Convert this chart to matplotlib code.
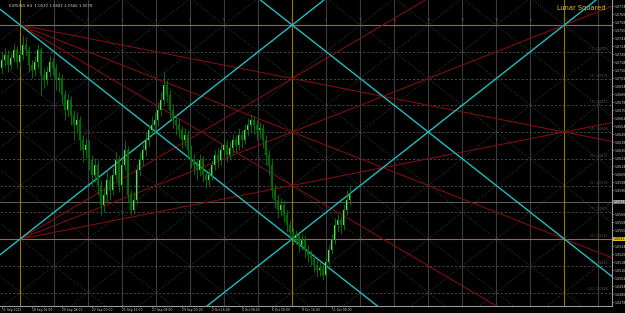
import numpy as np
import matplotlib
matplotlib.use("Agg")
import matplotlib.pyplot as plt

# EURUSD H4 candles (price), one per bar
closes = [1.0720, 1.0725, 1.0715, 1.0722, 1.0730, 1.0718, 1.0725, 1.0735, 1.0730, 1.0715,
          1.0710, 1.0718, 1.0730, 1.0705, 1.0700, 1.0708, 1.0718, 1.0712, 1.0700, 1.0702,
          1.0685, 1.0670, 1.0680, 1.0665, 1.0655, 1.0660, 1.0640, 1.0630, 1.0635, 1.0620,
          1.0605, 1.0615, 1.0595, 1.0575, 1.0585, 1.0600, 1.0590, 1.0605, 1.0620, 1.0595,
          1.0615, 1.0630, 1.0585, 1.0570, 1.0580, 1.0610, 1.0620, 1.0630, 1.0640, 1.0650,
          1.0655, 1.0660, 1.0670, 1.0680, 1.0695, 1.0685, 1.0670, 1.0660, 1.0655, 1.0650,
          1.0640, 1.0645, 1.0630, 1.0620, 1.0615, 1.0610, 1.0620, 1.0605, 1.0600, 1.0605,
          1.0615, 1.0625, 1.0620, 1.0630, 1.0635, 1.0625, 1.0632, 1.0640, 1.0635, 1.0645,
          1.0640, 1.0650, 1.0655, 1.0660, 1.0655, 1.0650, 1.0652, 1.0640, 1.0625, 1.0615,
          1.0590, 1.0580, 1.0570, 1.0575, 1.0565, 1.0555, 1.0548, 1.0542, 1.0545, 1.0535,
          1.0540, 1.0530, 1.0525, 1.0522, 1.0515, 1.0510, 1.0512, 1.0505, 1.0518, 1.0530,
          1.0540, 1.0555, 1.0560, 1.0555, 1.0570, 1.0580, 1.0585]
highs = [1.0728, 1.0732, 1.0730, 1.0727, 1.0737, 1.0734, 1.0731, 1.0745, 1.0743, 1.0734,
         1.0720, 1.0724, 1.0736, 1.0733, 1.0712, 1.0714, 1.0724, 1.0722, 1.0716, 1.0708,
         1.0706, 1.0690, 1.0686, 1.0684, 1.0670, 1.0668, 1.0664, 1.0645, 1.0642, 1.0640,
         1.0625, 1.0622, 1.0620, 1.0600, 1.0592, 1.0610, 1.0605, 1.0612, 1.0628, 1.0624,
         1.0622, 1.0640, 1.0634, 1.0590, 1.0588, 1.0616, 1.0628, 1.0636, 1.0648, 1.0656,
         1.0664, 1.0668, 1.0678, 1.0688, 1.0708, 1.0700, 1.0690, 1.0676, 1.0665, 1.0662,
         1.0654, 1.0652, 1.0650, 1.0635, 1.0626, 1.0620, 1.0626, 1.0624, 1.0610, 1.0612,
         1.0620, 1.0630, 1.0632, 1.0636, 1.0642, 1.0640, 1.0638, 1.0646, 1.0645, 1.0652,
         1.0650, 1.0656, 1.0662, 1.0666, 1.0664, 1.0660, 1.0658, 1.0656, 1.0645, 1.0630,
         1.0620, 1.0595, 1.0585, 1.0582, 1.0580, 1.0570, 1.0560, 1.0552, 1.0550, 1.0548,
         1.0546, 1.0544, 1.0535, 1.0530, 1.0526, 1.0520, 1.0518, 1.0516, 1.0522, 1.0535,
         1.0546, 1.0562, 1.0566, 1.0564, 1.0576, 1.0590, 1.0595]
lows = [1.0706, 1.0714, 1.0708, 1.0711, 1.0718, 1.0712, 1.0714, 1.0720, 1.0724, 1.0708,
        1.0702, 1.0704, 1.0712, 1.0685, 1.0692, 1.0695, 1.0703, 1.0705, 1.0690, 1.0688,
        1.0675, 1.0660, 1.0664, 1.0655, 1.0640, 1.0648, 1.0630, 1.0618, 1.0622, 1.0610,
        1.0595, 1.0598, 1.0585, 1.0565, 1.0568, 1.0578, 1.0580, 1.0585, 1.0600, 1.0588,
        1.0590, 1.0610, 1.0578, 1.0565, 1.0566, 1.0576, 1.0604, 1.0614, 1.0624, 1.0634,
        1.0644, 1.0648, 1.0654, 1.0664, 1.0676, 1.0678, 1.0662, 1.0652, 1.0645, 1.0642,
        1.0632, 1.0634, 1.0622, 1.0612, 1.0606, 1.0600, 1.0604, 1.0598, 1.0592, 1.0594,
        1.0600, 1.0610, 1.0612, 1.0615, 1.0624, 1.0618, 1.0620, 1.0626, 1.0628, 1.0630,
        1.0632, 1.0636, 1.0644, 1.0648, 1.0646, 1.0640, 1.0642, 1.0632, 1.0615, 1.0605,
        1.0582, 1.0572, 1.0562, 1.0564, 1.0558, 1.0548, 1.0540, 1.0535, 1.0536, 1.0528,
        1.0530, 1.0522, 1.0518, 1.0514, 1.0508, 1.0503, 1.0504, 1.0500, 1.0502, 1.0514,
        1.0526, 1.0536, 1.0548, 1.0546, 1.0550, 1.0565, 1.0575]
first_open = 1.0712

# square anchors (bar index / price)
t0 = 6.2
width_bars = 90.7
p_top = 1.0755
p_bot = 1.0541
last_price = 1.0578

price_ticks = [1.0478, 1.0486, 1.0494, 1.0502, 1.0510, 1.0518, 1.0526, 1.0534, 1.0550,
               1.0558, 1.0566, 1.0590, 1.0598, 1.0606, 1.0614, 1.0622, 1.0630,
               1.0638, 1.0646, 1.0654, 1.0662, 1.0670, 1.0678, 1.0686, 1.0694, 1.0702,
               1.0710, 1.0718, 1.0726, 1.0734, 1.0742, 1.0750, 1.0758, 1.0766, 1.0774]
date_bars = [0, 10, 20, 30, 40, 50, 60, 70, 80, 90, 100, 110]
date_labels = ["15 Sep 2023", "18 Sep 16:00", "20 Sep 08:00", "22 Sep 00:00", "25 Sep 16:00",
               "27 Sep 08:00", "29 Sep 00:00", "2 Oct 16:00", "4 Oct 08:00", "6 Oct 00:00",
               "9 Oct 16:00", "11 Oct 08:00"]

opens = [first_open] + closes[:-1]
n = len(closes)
idx = np.arange(n)

bg = "#000000"
gold = "#8c7418"
cyan = "#22bcbc"
red = "#7a0f0f"
grid_c = "#3c3c3c"

fig = plt.figure(figsize=(6.25, 3.13), dpi=100, facecolor=bg)
ax = fig.add_axes([0, 7 / 313, 612 / 625, 306 / 313], facecolor=bg)
xmin, xmax = -0.5, 203.5
ymin, ymax = 1.0474, 1.0780
ax.set_xlim(xmin, xmax)
ax.set_ylim(ymin, ymax)

H = p_top - p_bot
k = H / width_bars
xs = np.array([xmin - 50, xmax + 50])

# grid of the square
for j in range(0, 18):
    ax.axvline(t0 + j * width_bars / 8, color=grid_c, lw=0.8, zorder=1)
for m in range(-1, 12):
    y = p_top - m * H / 8
    ax.axhline(y, color="#4a4a4a", lw=0.6, ls=(0, (3, 2)), zorder=1)
    if 1 <= m <= 10:
        ax.text(xmax - 1.5, y + 0.0001, "(%d) %.4f" % (m, y), color="#555555", fontsize=2.4,
                ha="right", va="bottom", zorder=2)
for nn in range(-12, 14):
    xc = t0 + nn * width_bars / 4
    ax.plot(xs, p_top - k * (xs - xc), color="#3c3c3c", lw=0.5, ls=(0, (2, 2)), zorder=1)
    ax.plot(xs, p_top + k * (xs - xc), color="#3c3c3c", lw=0.5, ls=(0, (2, 2)), zorder=1)
for j in range(1, 17):
    ax.text(t0 + j * width_bars / 8, p_top + 0.0003, str(j), color="#555555", fontsize=2.4,
            ha="center", va="bottom", zorder=2)

# gold frame
for x in [t0, t0 + width_bars, t0 + 2 * width_bars]:
    ax.axvline(x, color=gold, lw=0.8, zorder=3)
ax.axhline(p_top, color=gold, lw=0.8, zorder=3)
ax.axhline(p_bot, color=gold, lw=0.8, zorder=3)

# last price line
ax.axhline(last_price, color="#5a5a5a", lw=0.8, zorder=2)

# red fans from the two left corners
rx = np.array([t0, xmax + 50])
for f in [0.25, 0.5, 0.75]:
    ax.plot(rx, p_top - f * k * (rx - t0), color=red, lw=0.8, zorder=3)
    ax.plot(rx, p_bot + f * k * (rx - t0), color=red, lw=0.8, zorder=3)

# cyan 1x1 lines
ax.plot(xs, p_top - k * (xs - t0), color=cyan, lw=1.0, zorder=4)
ax.plot(xs, p_bot + k * (xs - t0), color=cyan, lw=1.0, zorder=4)
ax.plot(xs, p_top - k * (xs - t0 - width_bars), color=cyan, lw=1.0, zorder=4)
ax.plot(xs, p_bot + k * (xs - t0 - width_bars), color=cyan, lw=1.0, zorder=4)

# candles
o = np.array(opens)
c = np.array(closes)
up = c >= o
ax.vlines(idx, lows, highs, color="#00800a", lw=0.6, zorder=5)
ax.bar(idx[up], (c - o)[up], bottom=o[up], width=0.6, color="#bfeeb8",
       edgecolor="#008000", lw=0.25, zorder=6)
ax.bar(idx[~up], (o - c)[~up], bottom=c[~up], width=0.6, color="#005a00",
       edgecolor="#008000", lw=0.25, zorder=6)

# axes styling
for s in ["left", "top"]:
    ax.spines[s].set_visible(False)
for s in ["right", "bottom"]:
    ax.spines[s].set_color("#9a9a9a")
    ax.spines[s].set_linewidth(0.8)
ax.yaxis.tick_right()
ax.set_yticks(price_ticks)
ax.set_yticklabels(["%.4f" % p for p in price_ticks], fontsize=2.3, color="#cfcfcf")
ax.tick_params(axis="y", length=1.2, width=0.4, color="#9a9a9a", pad=0.8)
ax.set_xticks(date_bars)
ax.set_xticklabels(date_labels, fontsize=2.2, color="#cfcfcf", ha="left")
ax.tick_params(axis="x", length=1.2, width=0.4, color="#9a9a9a", pad=0.4)

# price tags on the right axis
ax.text(1.003, (p_bot - ymin) / (ymax - ymin), "%.4f" % p_bot, transform=ax.transAxes,
        fontsize=2.3, color="black", va="center", ha="left",
        bbox=dict(boxstyle="square,pad=0.15", fc="#e6c200", ec="none"))
ax.text(1.003, (last_price - ymin) / (ymax - ymin), "%.4f" % last_price, transform=ax.transAxes,
        fontsize=2.3, color="white", va="center", ha="left",
        bbox=dict(boxstyle="square,pad=0.15", fc="#6a6a6a", ec="none"))

ax.text(0.015, 0.988, "EURUSD,H4  1.0572 1.0581 1.0566 1.0578", transform=ax.transAxes,
        fontsize=2.8, color="#d0d0d0", va="top", ha="left")
ax.text(0.99, 0.985, "Lunar Squared", transform=ax.transAxes, fontsize=4.8,
        color="#e6c200", va="top", ha="right")

fig.savefig("out.png", dpi=100, facecolor=bg)
